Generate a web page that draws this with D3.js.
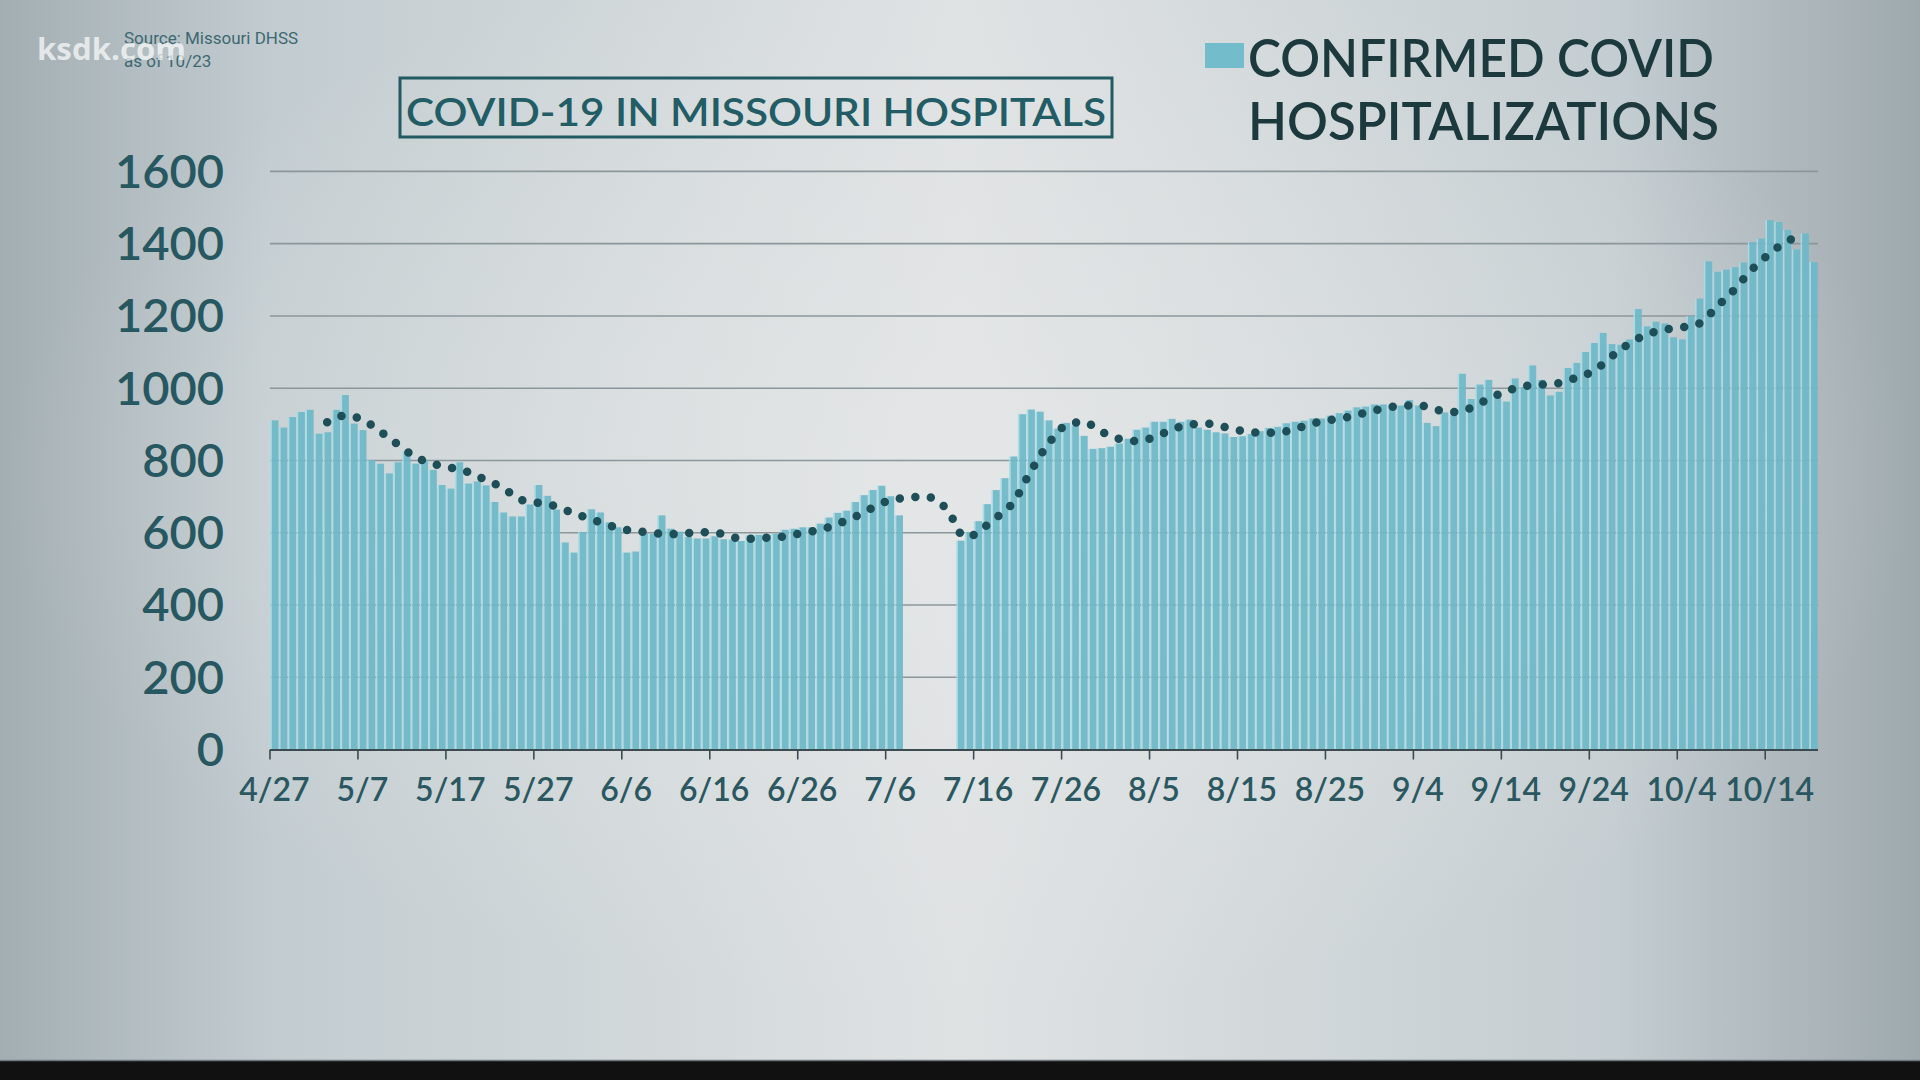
<!DOCTYPE html>
<html>
<head>
<meta charset="utf-8">
<script src="https://cdn.jsdelivr.net/npm/d3@7"></script>
<style>
  html, body { margin: 0; padding: 0; background: #111; }
  svg { display: block; }
</style>
</head>
<body>
<svg id="chart" width="1920" height="1080"></svg>
<script>
// confirmed covid hospitalizations in Missouri, one value per day from 4/27
const startDate = "2020-04-27";
const hospitalizations = [
  911, 891, 920, 934, 940, 874, 878, 940, 981, 902,
  884, 801, 791, 764, 795, 824, 791, 802, 774, 732,
  722, 795, 736, 742, 731, 685, 656, 645, 645, 678,
  732, 702, 664, 573, 545, 602, 665, 656, 629, 615,
  545, 548, 597, 597, 648, 611, 603, 588, 584, 584,
  590, 582, 581, 577, 593, 594, 594, 597, 608, 611,
  615, 615, 625, 642, 655, 661, 685, 704, 718, 730,
  701, 648, null, null, null, null, null, null, 578, 602,
  632, 679, 718, 751, 811, 928, 941, 935, 911, 888,
  904, 897, 868, 832, 834, 838, 847, 860, 885, 891,
  907, 907, 915, 907, 913, 891, 885, 878, 875, 865,
  867, 873, 881, 890, 893, 903, 907, 910, 916, 916,
  924, 931, 938, 947, 949, 955, 955, 955, 952, 967,
  952, 904, 895, 933, 927, 1040, 970, 1010, 1023, 990,
  963, 1027, 1003, 1063, 1023, 980, 990, 1056, 1070, 1100,
  1125, 1153, 1122, 1120, 1135, 1219, 1171, 1184, 1179, 1141,
  1135, 1199, 1248, 1351, 1322, 1328, 1335, 1348, 1404, 1414,
  1465, 1460, 1438, 1384, 1428, 1349
];

// 7 day average (dotted line)
const avgDays = [
  "5/3", "5/5", "5/7", "5/9", "5/11", "5/13", "5/15", "5/17", "5/19", "5/21",
  "5/23", "5/25", "5/27", "5/29", "5/31", "6/2", "6/4", "6/6", "6/8", "6/10",
  "6/12", "6/14", "6/16", "6/18", "6/20", "6/22", "6/24", "6/26", "6/28", "6/30",
  "7/2", "7/4", "7/6", "7/8", "7/10", "7/12", "7/13", "7/14", "7/15", "7/16",
  "7/18", "7/20", "7/22", "7/24", "7/26", "7/28", "7/30", "8/1", "8/3", "8/5",
  "8/7", "8/9", "8/11", "8/13", "8/15", "8/17", "8/19", "8/21", "8/23", "8/25",
  "8/27", "8/29", "8/31", "9/2", "9/4", "9/6", "9/8", "9/10", "9/12", "9/14",
  "9/16", "9/18", "9/20", "9/22", "9/24", "9/26", "9/28", "9/30", "10/2", "10/4",
  "10/6", "10/8", "10/10", "10/12", "10/14", "10/16", "10/18"
];
const avgValues = [
  906, 924, 913, 881, 845, 810, 791, 780, 768, 746,
  724, 691, 683, 673, 654, 638, 621, 608, 602, 597,
  596, 601, 601, 588, 583, 586, 590, 599, 608, 624,
  644, 669, 690, 697, 700, 676, 644, 598, 588, 603,
  640, 684, 770, 846, 897, 907, 880, 860, 854, 864,
  885, 899, 902, 893, 882, 877, 877, 887, 902, 912,
  920, 932, 943, 951, 953, 941, 934, 945, 970, 991,
  1005, 1010, 1014, 1029, 1048, 1087, 1123, 1148, 1162, 1168,
  1179, 1225, 1273, 1329, 1372, 1407, 1424
];

const yTicks = [0, 200, 400, 600, 800, 1000, 1200, 1400, 1600];
const xTickLabels = ["4/27", "5/7", "5/17", "5/27", "6/6", "6/16", "6/26", "7/6", "7/16",
  "7/26", "8/5", "8/15", "8/25", "9/4", "9/14", "9/24", "10/4", "10/14"];

const svg = d3.select("#chart");
const parseISO = d3.timeParse("%Y-%m-%d");
const parseMD = s => d3.timeParse("%m/%d/%Y")(s + "/2020");

const start = parseISO(startDate);
const end = d3.timeDay.offset(start, hospitalizations.length);
const days = hospitalizations.map((v, i) => ({ date: d3.timeDay.offset(start, i), value: v }));
const avg = avgDays.map((d, i) => ({ date: parseMD(d), value: avgValues[i] }));

const x = d3.scaleTime().domain([start, end]).range([270, 1818]);
const y = d3.scaleLinear().domain([0, 1600]).range([749.5, 171.4]);
const dayW = x(d3.timeDay.offset(start, 1)) - x(start);

// background
const defs = svg.append("defs");
const bg = defs.append("linearGradient").attr("id", "bg").attr("x1", 0).attr("x2", 1).attr("y1", 0).attr("y2", 0);
[["0%", "#a3aeb3"], ["14%", "#c2ccd0"], ["50%", "#dfe2e3"], ["84%", "#c4cdd1"], ["100%", "#9ea9ae"]]
  .forEach(s => bg.append("stop").attr("offset", s[0]).attr("stop-color", s[1]));
const glow = defs.append("radialGradient").attr("id", "glow").attr("cx", 0.5).attr("cy", 0.45).attr("r", 0.5);
glow.append("stop").attr("offset", "0%").attr("stop-color", "#e6e8e8").attr("stop-opacity", 0.7);
glow.append("stop").attr("offset", "100%").attr("stop-color", "#e6e8e8").attr("stop-opacity", 0);

svg.append("rect").attr("width", 1920).attr("height", 1061).attr("fill", "url(#bg)");
svg.append("rect").attr("width", 1920).attr("height", 1061).attr("fill", "url(#glow)");
svg.append("rect").attr("y", 1061).attr("width", 1920).attr("height", 19).attr("fill", "#111");
svg.append("line").attr("x1", 0).attr("x2", 1920).attr("y1", 1060.5).attr("y2", 1060.5)
  .attr("stroke", "#6f787c").attr("stroke-width", 1.5);

// gridlines
svg.append("g").selectAll("line").data(yTicks.filter(d => d > 0)).join("line")
  .attr("x1", x.range()[0]).attr("x2", x.range()[1])
  .attr("y1", d => y(d)).attr("y2", d => y(d))
  .attr("stroke", "#8c979b").attr("stroke-width", 1.6);

// bars
const bars = svg.append("g").attr("opacity", 0.93);
const valid = days.filter(d => d.value != null);
bars.selectAll("rect.edge").data(valid).join("rect").attr("class", "edge")
  .attr("x", d => x(d.date) + 0.2).attr("width", 1.6)
  .attr("y", d => y(d.value)).attr("height", d => y(0) - y(d.value))
  .attr("fill", "#a8dde8");
bars.selectAll("rect.bar").data(valid).join("rect").attr("class", "bar")
  .attr("x", d => x(d.date) + 1.8).attr("width", dayW - 2.1)
  .attr("y", d => y(d.value)).attr("height", d => y(0) - y(d.value))
  .attr("fill", "#6fb9c9");

// x axis
svg.append("line").attr("x1", x.range()[0]).attr("x2", x.range()[1])
  .attr("y1", y(0) + 0.5).attr("y2", y(0) + 0.5)
  .attr("stroke", "#3b4b50").attr("stroke-width", 2);
const tickDates = xTickLabels.map(parseMD);
svg.append("g").selectAll("line").data(tickDates).join("line")
  .attr("x1", d => x(d)).attr("x2", d => x(d))
  .attr("y1", y(0)).attr("y2", y(0) + 10)
  .attr("stroke", "#3b4b50").attr("stroke-width", 1.6);
svg.append("g").selectAll("text").data(xTickLabels).join("text")
  .attr("x", (d, i) => x(tickDates[i]) + dayW / 2)
  .attr("y", 801)
  .attr("text-anchor", "middle")
  .attr("font-family", "Lato, 'Open Sans', sans-serif")
  .attr("font-weight", 600)
  .attr("font-size", 32)
  .attr("fill", "#2a5760")
  .text(d => d);

// y labels
svg.append("g").selectAll("text").data(yTicks).join("text")
  .attr("x", 224)
  .attr("y", d => y(d) + 16.5)
  .attr("text-anchor", "end")
  .attr("font-family", "Lato, 'Open Sans', sans-serif")
  .attr("font-weight", 600)
  .attr("font-size", 47)
  .attr("fill", "#275760")
  .text(d => d);

// 7 day average as dots
const avgLine = d3.line()
  .x(d => x(d.date) + dayW / 2)
  .y(d => y(d.value))
  .curve(d3.curveMonotoneX);
svg.append("path").datum(avg)
  .attr("d", avgLine)
  .attr("fill", "none")
  .attr("stroke", "#1e4f58")
  .attr("stroke-width", 8.5)
  .attr("stroke-linecap", "round")
  .attr("stroke-dasharray", "0 15.6");

// title
svg.append("rect").attr("x", 400).attr("y", 78).attr("width", 712).attr("height", 59)
  .attr("fill", "none").attr("stroke", "#225a63").attr("stroke-width", 3);
svg.append("text").attr("x", 756).attr("y", 125.5)
  .attr("text-anchor", "middle")
  .attr("font-family", "Lato, 'Open Sans', sans-serif")
  .attr("font-weight", 600).attr("font-size", 39)
  .attr("textLength", 700).attr("lengthAdjust", "spacingAndGlyphs")
  .attr("fill", "#225c65")
  .text("COVID-19 IN MISSOURI HOSPITALS");

// legend
svg.append("rect").attr("x", 1205).attr("y", 43).attr("width", 39).attr("height", 25).attr("fill", "#72bccb");
const legendLines = ["CONFIRMED COVID", "HOSPITALIZATIONS"];
svg.append("g").selectAll("text").data(legendLines).join("text")
  .attr("x", 1248).attr("y", (d, i) => 77 + i * 63)
  .attr("font-family", "Lato, 'Open Sans', sans-serif")
  .attr("font-weight", 600).attr("font-size", 51)
  .attr("textLength", (d, i) => i === 0 ? 466 : 471)
  .attr("lengthAdjust", "spacingAndGlyphs")
  .attr("fill", "#1c3a3e")
  .text(d => d);

// source note
svg.append("g").selectAll("text").data(["Source: Missouri DHSS", "as of 10/23"]).join("text")
  .attr("x", 124).attr("y", (d, i) => 44 + i * 23)
  .attr("font-family", "Roboto, sans-serif")
  .attr("font-size", 17)
  .attr("fill", "#3d6871")
  .text(d => d);

// station watermark
svg.append("text").attr("x", 37).attr("y", 60)
  .attr("font-family", "'Open Sans', sans-serif")
  .attr("font-weight", 700).attr("font-size", 30)
  .attr("textLength", 149).attr("lengthAdjust", "spacingAndGlyphs")
  .attr("fill", "#ffffff").attr("fill-opacity", 0.7)
  .text("ksdk.com");
</script>
</body>
</html>
